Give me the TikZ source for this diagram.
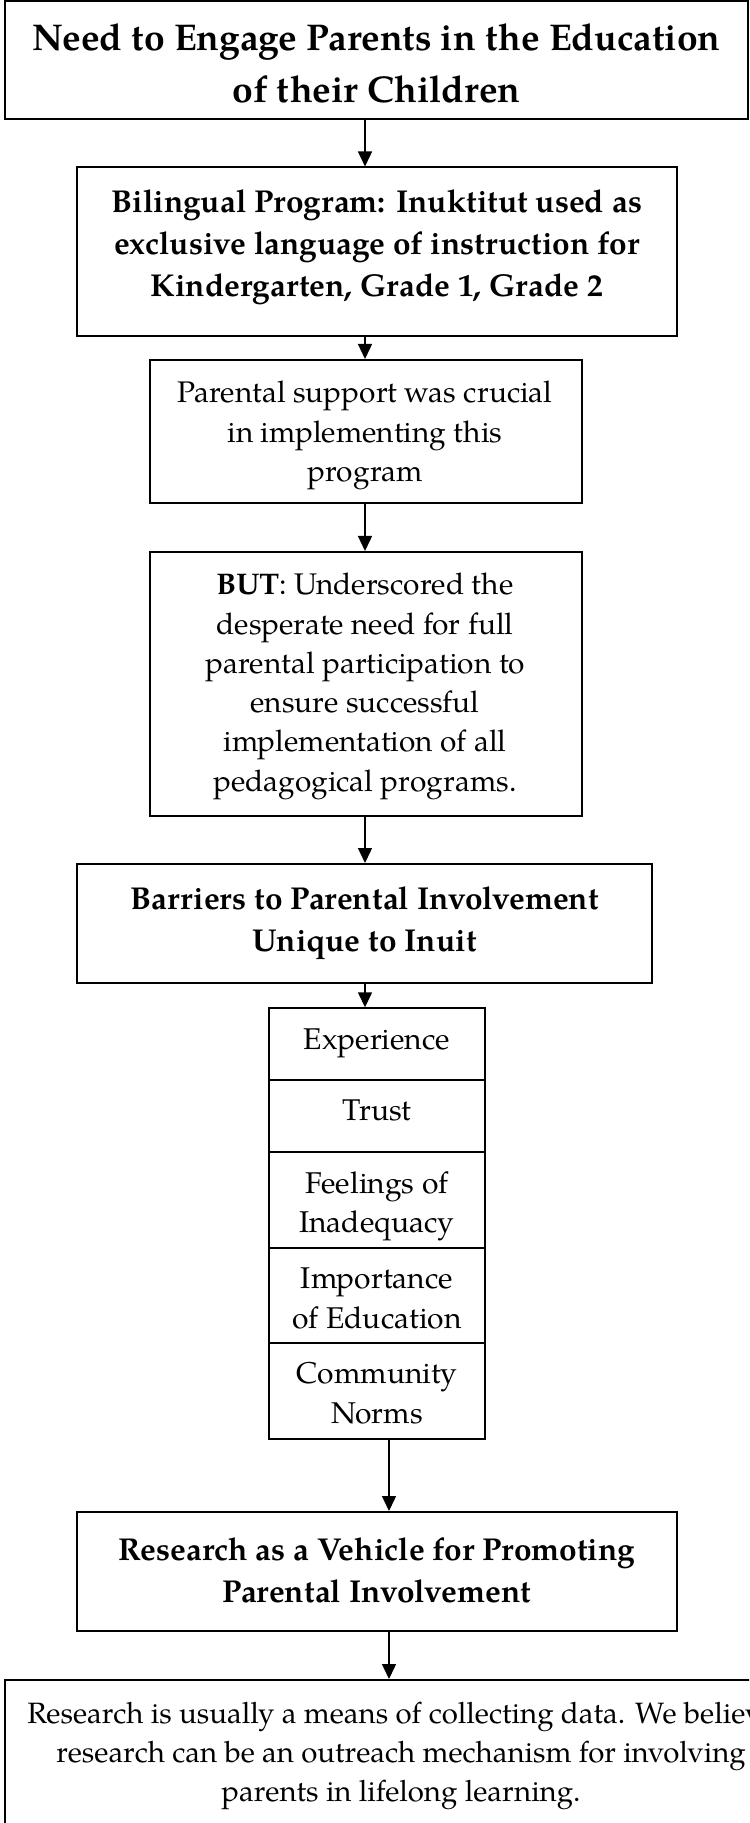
\documentclass[tikz,border=0pt]{standalone}
\usepackage{fontspec}
\setmainfont{TeX Gyre Pagella}
\usetikzlibrary{arrows.meta}
\newcommand\fTitle{\fontsize{18.6}{25.75}\selectfont\bfseries}
\newcommand\fHead{\fontsize{15.8}{21}\selectfont\bfseries}
\newcommand\fBody{\fontsize{14.9}{19.6}\selectfont}
\newcommand\fList{\fontsize{15}{19.75}\selectfont}
\newcommand\fLast{\fontsize{14.7}{19.5}\selectfont}
\newcommand\ml[1]{\begin{tabular}[t]{@{}c@{}}#1\end{tabular}}
\tikzset{
  box/.style={draw, line width=1pt, inner sep=0pt, anchor=center},
  txt/.style={inner sep=0pt, anchor=base},
  arr/.style={-{Triangle[length=7.5pt,width=7pt]}, line width=0.7pt},
}
\begin{document}
\begin{tikzpicture}[x=0.5pt,y=-0.5pt]
\clip (0,0) rectangle (749,1823);
\useasboundingbox (0,0) rectangle (749,1823);
% boxes
\node[box, minimum width=371.5pt, minimum height=59pt] (top) at (376.5,60) {};
\node[box, minimum width=300.25pt, minimum height=84.25pt] (b2) at (376.75,251.75) {};
\node[box, minimum width=216pt, minimum height=71.5pt] (b3) at (365.5,431.5) {};
\node[box, minimum width=216pt, minimum height=132pt] (b4) at (365.5,684) {};
\node[box, minimum width=287.5pt, minimum height=59.5pt] (b5) at (364.75,923.5) {};
\node[box, minimum width=107.85pt, minimum height=35.85pt] (l1) at (377.2,1044.15) {};
\node[box, minimum width=107.85pt, minimum height=35.85pt] (l2) at (377.2,1115.85) {};
\node[box, minimum width=107.85pt, minimum height=48pt] (l3) at (377.2,1199.7) {};
\node[box, minimum width=107.85pt, minimum height=47.8pt] (l4) at (377.2,1295.5) {};
\node[box, minimum width=107.85pt, minimum height=48pt] (l5) at (377.2,1391.3) {};
\node[box, minimum width=300.25pt, minimum height=59.25pt] (b6) at (376.75,1571.25) {};
\node[box, minimum width=396pt, minimum height=76pt] (b7) at (401,1756) {};
% texts
\node[txt, font=\fTitle] (topt) at (376.5,51)
  {\ml{Need to Engage Parents in the Education\\of their Children}};
\node[txt, font=\fHead] (b2t) at (376.75,213)
  {\ml{Bilingual Program: Inuktitut used as\\exclusive language of instruction for\\Kindergarten, Grade 1, Grade 2}};
\node[txt, font=\fBody] (b3t) at (365,403)
  {\ml{Parental support was crucial\\in implementing this\\program}};
\node[txt, font=\fBody] (b4t) at (365,595)
  {\ml{\textbf{BUT}: Underscored the\\desperate need for full\\parental participation to\\ensure successful\\implementation of all\\pedagogical programs.}};
\node[txt, font=\fHead] (b5t) at (364.75,909)
  {\ml{Barriers to Parental Involvement\\Unique to Inuit}};
\node[txt, font=\fList] (l1t) at (377,1049) {\ml{Experience}};
\node[txt, font=\fList] (l2t) at (377,1120) {\ml{Trust}};
\node[txt, font=\fList] (l3t) at (377,1193) {\ml{Feelings of\\Inadequacy}};
\node[txt, font=\fList] (l4t) at (377,1288.5) {\ml{Importance\\of Education}};
\node[txt, font=\fList] (l5t) at (377,1383.5) {\ml{Community\\Norms}};
\node[txt, font=\fHead] (b6t) at (376.75,1560)
  {\ml{Research as a Vehicle for Promoting\\Parental Involvement}};
\node[txt, font=\fLast] (b7t) at (401,1723)
  {\ml{Research is usually a means of collecting data. We believe\\research can be an outreach mechanism for involving\\parents in lifelong learning.}};
% connectors
\coordinate (ax) at (365,0);
\coordinate (bx) at (389,0);
\draw[arr] (top.south -| ax) -- (b2.north -| ax);
\draw[arr] (b2.south -| ax) -- (b3.north -| ax);
\draw[arr] (b3.south -| ax) -- (b4.north -| ax);
\draw[arr] (b4.south -| ax) -- (b5.north -| ax);
\draw[arr] (b5.south -| ax) -- (l1.north -| ax);
\draw[arr] (l5.south -| bx) -- (b6.north -| bx);
\draw[arr] (b6.south -| bx) -- (b7.north -| bx);
\end{tikzpicture}
\end{document}
